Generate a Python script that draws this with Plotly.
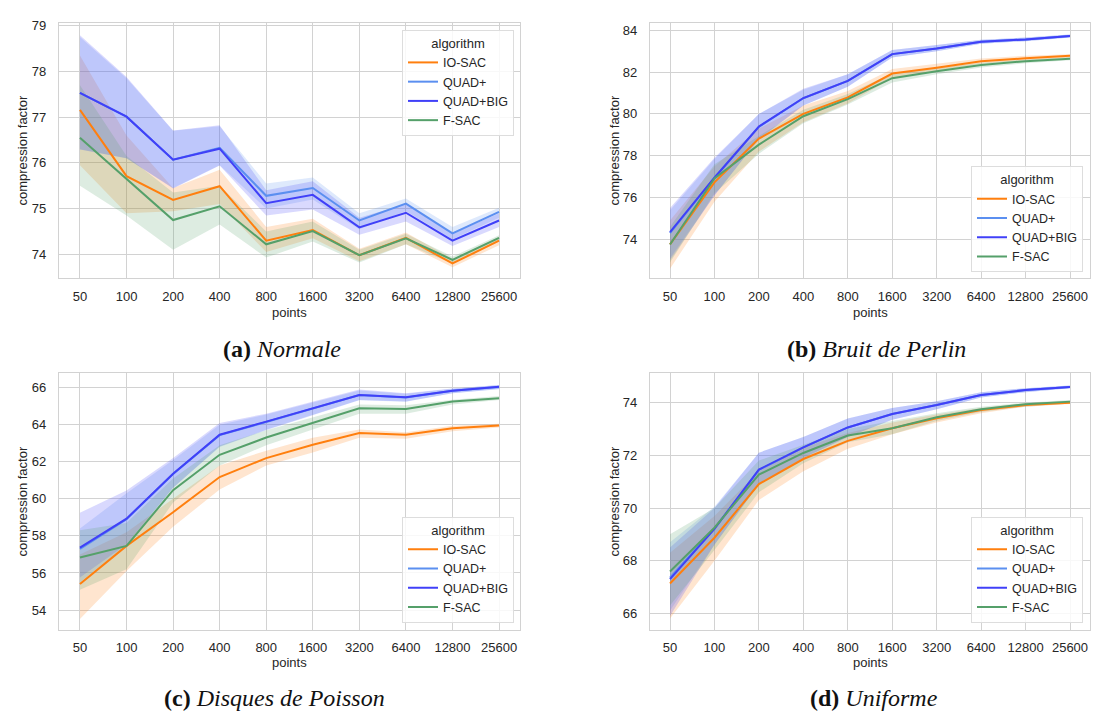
import plotly.graph_objects as go

# ---------------- data ----------------
POINTS = ["50", "100", "200", "400", "800", "1600", "3200", "6400", "12800", "25600"]
ALGOS = ["IO-SAC", "QUAD+", "QUAD+BIG", "F-SAC"]
COLORS = {"IO-SAC": "#ff7f0e", "QUAD+": "#5b8ff0", "QUAD+BIG": "#4040f8", "F-SAC": "#55a06a"}
FILLS = {"IO-SAC": "rgba(255,127,14,0.2)", "QUAD+": "rgba(91,143,240,0.2)",
         "QUAD+BIG": "rgba(64,64,248,0.2)", "F-SAC": "rgba(85,160,106,0.2)"}

# (a) Normale
A_IOSAC = [77.16, 75.71, 75.19, 75.49, 74.30, 74.53, 73.98, 74.36, 73.80, 74.30]
A_IOSAC_LO = [75.95, 74.90, 74.94, 75.10, 74.05, 74.35, 73.85, 74.22, 73.72, 74.20]
A_IOSAC_HI = [78.35, 76.60, 75.45, 75.85, 74.60, 74.78, 74.12, 74.48, 73.90, 74.38]
A_QUAD = [77.53, 77.01, 76.07, 76.33, 75.28, 75.45, 74.74, 75.11, 74.46, 74.93]
A_QUAD_LO = [76.30, 76.10, 75.45, 75.95, 75.00, 75.20, 74.55, 74.95, 74.33, 74.80]
A_QUAD_HI = [78.75, 77.85, 76.70, 76.80, 75.55, 75.68, 74.90, 75.22, 74.60, 75.02]
A_QBIG = [77.53, 77.01, 76.07, 76.31, 75.12, 75.30, 74.59, 74.91, 74.30, 74.74]
A_QBIG_LO = [76.29, 76.10, 75.44, 75.94, 74.85, 74.98, 74.43, 74.72, 74.18, 74.60]
A_QBIG_HI = [78.79, 77.88, 76.71, 76.82, 75.40, 75.60, 74.80, 75.10, 74.45, 74.90]
A_FSAC = [76.55, 75.66, 74.75, 75.05, 74.22, 74.51, 73.98, 74.35, 73.88, 74.36]
A_FSAC_LO = [75.50, 74.85, 74.10, 74.65, 73.93, 74.28, 73.82, 74.22, 73.80, 74.28]
A_FSAC_HI = [77.70, 76.15, 75.35, 75.50, 74.50, 74.72, 74.10, 74.45, 73.95, 74.42]

# (b) Bruit de Perlin
B_IOSAC = [73.76, 76.73, 78.82, 80.00, 80.79, 81.93, 82.21, 82.52, 82.66, 82.78]
B_IOSAC_LO = [72.60, 75.80, 78.20, 79.60, 80.50, 81.70, 82.05, 82.40, 82.55, 82.70]
B_IOSAC_HI = [74.90, 77.50, 79.30, 80.40, 81.10, 82.15, 82.40, 82.65, 82.78, 82.85]
B_QUAD = [74.30, 76.95, 79.38, 80.75, 81.58, 82.86, 83.13, 83.45, 83.56, 83.72]
B_QUAD_LO = [73.10, 76.10, 78.80, 80.40, 81.30, 82.70, 83.00, 83.35, 83.48, 83.65]
B_QUAD_HI = [75.40, 77.85, 80.00, 81.15, 81.90, 83.05, 83.30, 83.55, 83.65, 83.80]
B_QBIG = [74.35, 76.95, 79.40, 80.76, 81.58, 82.86, 83.13, 83.45, 83.56, 83.72]
B_QBIG_LO = [73.00, 76.10, 78.80, 80.40, 81.30, 82.70, 83.00, 83.35, 83.48, 83.65]
B_QBIG_HI = [75.50, 77.90, 80.00, 81.20, 81.90, 83.05, 83.30, 83.55, 83.65, 83.80]
B_FSAC = [73.76, 76.92, 78.53, 79.89, 80.71, 81.71, 82.04, 82.34, 82.52, 82.64]
B_FSAC_LO = [72.90, 76.20, 78.10, 79.55, 80.45, 81.50, 81.90, 82.22, 82.42, 82.56]
B_FSAC_HI = [74.60, 77.60, 78.95, 80.20, 80.95, 81.95, 82.20, 82.45, 82.60, 82.72]

# (c) Disques de Poisson
C_IOSAC = [55.40, 57.46, 59.28, 61.18, 62.20, 62.92, 63.56, 63.46, 63.81, 63.96]
C_IOSAC_LO = [53.52, 56.10, 58.50, 60.50, 61.80, 62.50, 63.30, 63.25, 63.65, 63.85]
C_IOSAC_HI = [57.00, 58.20, 60.00, 61.80, 62.60, 63.30, 63.75, 63.60, 63.95, 64.05]
C_QUAD = [57.30, 58.90, 61.34, 63.44, 64.15, 64.88, 65.60, 65.47, 65.83, 66.04]
C_QUAD_LO = [55.50, 57.50, 60.60, 62.80, 63.70, 64.50, 65.32, 65.24, 65.70, 65.92]
C_QUAD_HI = [58.40, 60.30, 62.10, 64.00, 64.55, 65.20, 65.85, 65.68, 65.95, 66.14]
C_QBIG = [57.37, 58.93, 61.36, 63.46, 64.17, 64.89, 65.61, 65.48, 65.84, 66.05]
C_QBIG_LO = [55.75, 57.55, 60.60, 62.83, 63.73, 64.53, 65.34, 65.25, 65.70, 65.93]
C_QBIG_HI = [59.25, 60.45, 62.20, 64.10, 64.60, 65.25, 65.90, 65.70, 65.96, 66.15]
C_FSAC = [56.83, 57.46, 60.47, 62.38, 63.31, 64.08, 64.89, 64.85, 65.25, 65.43]
C_FSAC_LO = [55.10, 56.20, 59.80, 61.80, 62.90, 63.75, 64.60, 64.60, 65.10, 65.33]
C_FSAC_HI = [58.30, 58.70, 61.10, 62.90, 63.70, 64.40, 65.10, 65.05, 65.35, 65.55]

# (d) Uniforme
D_IOSAC = [67.13, 68.87, 70.91, 71.86, 72.55, 73.03, 73.41, 73.72, 73.91, 74.00]
D_IOSAC_LO = [65.80, 68.00, 70.30, 71.40, 72.25, 72.80, 73.25, 73.60, 73.85, 73.95]
D_IOSAC_HI = [68.30, 69.70, 71.40, 72.30, 72.85, 73.25, 73.55, 73.80, 73.98, 74.05]
D_QUAD = [67.35, 69.22, 71.45, 72.30, 73.06, 73.57, 73.91, 74.29, 74.48, 74.60]
D_QUAD_LO = [66.10, 68.60, 70.90, 71.90, 72.70, 73.35, 73.75, 74.20, 74.40, 74.55]
D_QUAD_HI = [68.70, 70.05, 72.10, 72.70, 73.40, 73.80, 74.05, 74.40, 74.55, 74.65]
D_QBIG = [67.30, 69.21, 71.46, 72.30, 73.06, 73.57, 73.91, 74.29, 74.48, 74.60]
D_QBIG_LO = [65.90, 68.60, 70.90, 71.90, 72.70, 73.35, 73.75, 74.20, 74.40, 74.55]
D_QBIG_HI = [68.50, 70.00, 72.10, 72.70, 73.40, 73.80, 74.05, 74.40, 74.55, 74.65]
D_FSAC = [67.59, 69.25, 71.27, 72.09, 72.75, 73.03, 73.45, 73.75, 73.94, 74.04]
D_FSAC_LO = [66.30, 68.40, 70.60, 71.70, 72.50, 72.80, 73.30, 73.65, 73.85, 73.97]
D_FSAC_HI = [69.00, 70.00, 71.80, 72.40, 73.00, 73.30, 73.60, 73.85, 74.00, 74.10]

CAPTIONS = ["<b>(a)</b> <i>Normale</i>", "<b>(b)</b> <i>Bruit de Perlin</i>",
            "<b>(c)</b> <i>Disques de Poisson</i>", "<b>(d)</b> <i>Uniforme</i>"]

PANELS = [
    {"IO-SAC": (A_IOSAC, A_IOSAC_LO, A_IOSAC_HI), "QUAD+": (A_QUAD, A_QUAD_LO, A_QUAD_HI),
     "QUAD+BIG": (A_QBIG, A_QBIG_LO, A_QBIG_HI), "F-SAC": (A_FSAC, A_FSAC_LO, A_FSAC_HI)},
    {"IO-SAC": (B_IOSAC, B_IOSAC_LO, B_IOSAC_HI), "QUAD+": (B_QUAD, B_QUAD_LO, B_QUAD_HI),
     "QUAD+BIG": (B_QBIG, B_QBIG_LO, B_QBIG_HI), "F-SAC": (B_FSAC, B_FSAC_LO, B_FSAC_HI)},
    {"IO-SAC": (C_IOSAC, C_IOSAC_LO, C_IOSAC_HI), "QUAD+": (C_QUAD, C_QUAD_LO, C_QUAD_HI),
     "QUAD+BIG": (C_QBIG, C_QBIG_LO, C_QBIG_HI), "F-SAC": (C_FSAC, C_FSAC_LO, C_FSAC_HI)},
    {"IO-SAC": (D_IOSAC, D_IOSAC_LO, D_IOSAC_HI), "QUAD+": (D_QUAD, D_QUAD_LO, D_QUAD_HI),
     "QUAD+BIG": (D_QBIG, D_QBIG_LO, D_QBIG_HI), "F-SAC": (D_FSAC, D_FSAC_LO, D_FSAC_HI)},
]

# ---------------- layout geometry (pixels) ----------------
W, H = 1109, 713
PLOT_X = [(51, 512), (642, 1082), (51, 512), (642, 1082)]
PLOT_Y = [(10, 267), (10, 267), (363, 621), (363, 621)]
Y_RANGES = [(73.48, 79.06), (72.15, 84.35), (52.94, 66.77), (65.38, 75.11)]
Y_TICKS = [list(range(74, 80)), list(range(74, 85, 2)), list(range(54, 67, 2)), list(range(66, 75, 2))]
LEGEND_POS = [("top", 506, 17), ("bottom", 1075, 261), ("bottom", 506, 614), ("bottom", 1075, 614)]
CAPTION_POS = [(274, 338), (868, 338), (266, 690), (866, 690)]
YTITLE_X = [15, 607, 15, 607]
XTITLE_Y = [302, 302, 654, 654]

FONT = "Liberation Sans, Arial, sans-serif"
TXT = "#262626"
GRID = "#d2d2d2"

xs = list(range(len(POINTS)))
fig = go.Figure()
layout = dict(width=W, height=H, margin=dict(l=0, r=0, t=0, b=0),
              paper_bgcolor="white", plot_bgcolor="white", showlegend=True,
              font=dict(family=FONT, color=TXT, size=13))
annotations = []

for i, panel in enumerate(PANELS):
    k = "" if i == 0 else str(i + 1)
    xa, ya = "x" + k, "y" + k
    lg = "legend" + k
    # confidence bands first (below every line)
    for alg in ALGOS:
        mean, lo, hi = panel[alg]
        fig.add_trace(go.Scatter(x=xs + xs[::-1], y=list(hi) + list(lo)[::-1], xaxis=xa, yaxis=ya,
                                 fill="toself", fillcolor=FILLS[alg], line=dict(width=0),
                                 mode="lines", hoverinfo="skip", showlegend=False, legend=lg))
    for alg in ALGOS:
        mean, lo, hi = panel[alg]
        fig.add_trace(go.Scatter(x=xs, y=mean, xaxis=xa, yaxis=ya, mode="lines", name=alg,
                                 line=dict(color=COLORS[alg], width=2), legend=lg, showlegend=True))
    x0, x1 = PLOT_X[i]
    y0, y1 = PLOT_Y[i]
    layout["xaxis" + k] = dict(domain=[x0 / W, x1 / W], range=[-0.45, 9.45], anchor=ya,
                               tickvals=xs, ticktext=POINTS, showgrid=True, gridcolor=GRID, gridwidth=1,
                               showline=True, linecolor=GRID, linewidth=1.3, mirror=True, zeroline=False,
                               ticks="", ticklabelstandoff=6, tickfont=dict(size=13, color=TXT, family=FONT))
    layout["yaxis" + k] = dict(domain=[1 - y1 / H, 1 - y0 / H], range=list(Y_RANGES[i]), anchor=xa,
                               tickvals=Y_TICKS[i], showgrid=True, gridcolor=GRID, gridwidth=1,
                               showline=True, linecolor=GRID, linewidth=1.3, mirror=True, zeroline=False,
                               ticks="", ticklabelstandoff=9, tickfont=dict(size=13, color=TXT, family=FONT))
    anchor, lx, ly = LEGEND_POS[i]
    layout[lg] = dict(x=lx / W, y=1 - ly / H, xanchor="right", yanchor=anchor,
                      bgcolor="rgba(255,255,255,0.85)", bordercolor="#dddddd", borderwidth=1,
                      font=dict(size=12.5, color=TXT, family=FONT),
                      title=dict(text="algorithm", side="top center", font=dict(size=13, color=TXT, family=FONT)),
                      tracegroupgap=0, itemwidth=30)
    annotations.append(dict(text="compression factor", textangle=-90, x=YTITLE_X[i] / W,
                            y=1 - (y0 + y1) / 2 / H, xref="paper", yref="paper", showarrow=False,
                            font=dict(size=13, color=TXT, family=FONT), xanchor="center", yanchor="middle"))
    annotations.append(dict(text="points", x=(x0 + x1) / 2 / W, y=1 - XTITLE_Y[i] / H,
                            xref="paper", yref="paper", showarrow=False,
                            font=dict(size=13, color=TXT, family=FONT), xanchor="center", yanchor="middle"))
    cx, cy = CAPTION_POS[i]
    annotations.append(dict(text=CAPTIONS[i], x=cx / W, y=1 - cy / H, xref="paper", yref="paper",
                            showarrow=False, font=dict(size=24, color="#111111", family="Liberation Serif, serif"),
                            xanchor="center", yanchor="middle"))

layout["annotations"] = annotations
fig.update_layout(**layout)
fig.write_html("out.html")
